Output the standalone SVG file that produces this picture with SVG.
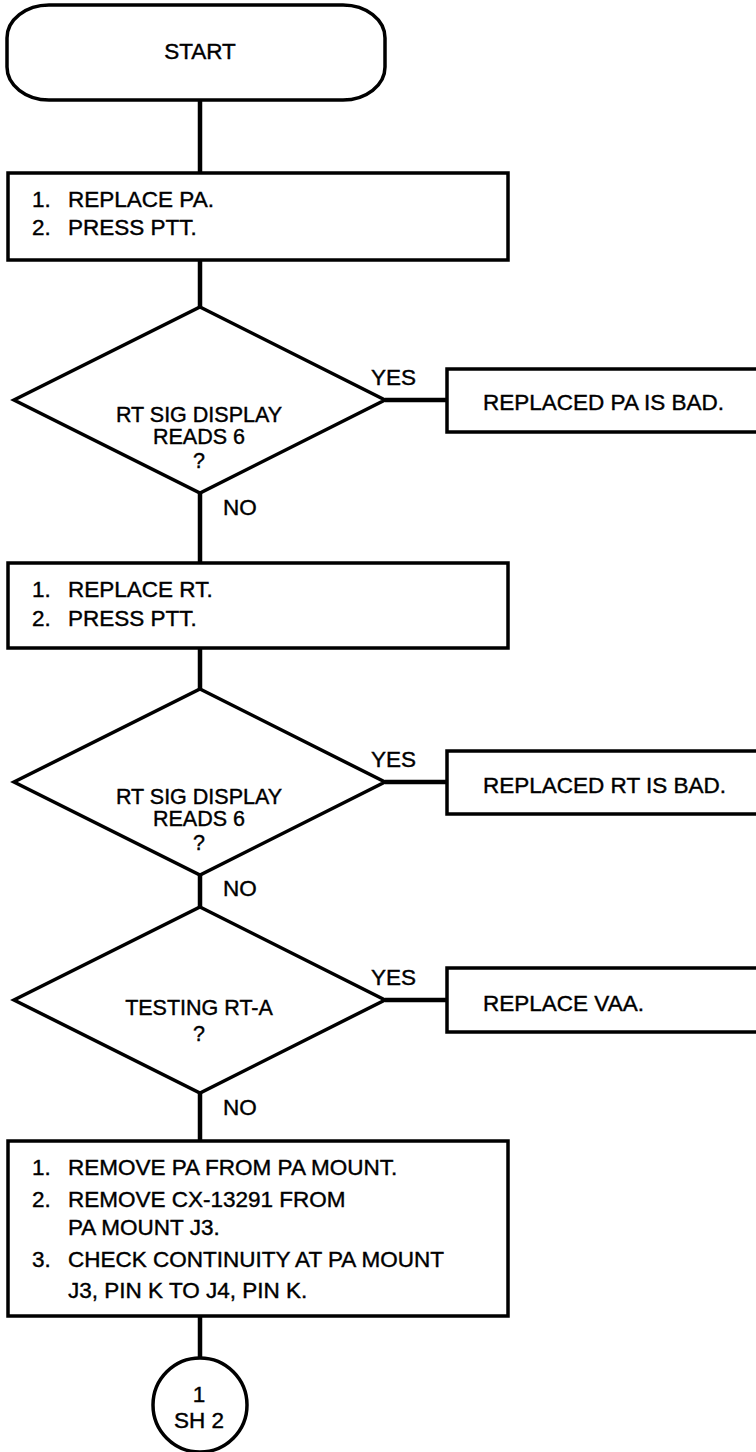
<svg xmlns="http://www.w3.org/2000/svg" width="756" height="1452" viewBox="0 0 756 1452">
<style>
text{font-family:"Liberation Sans",Arial,Helvetica,sans-serif;font-size:22.5px;fill:#000;stroke:#000;stroke-width:0.4}
.c{text-anchor:middle}
.d{font-size:21.5px}
.s{fill:#fff;stroke:#000;stroke-width:3.5;stroke-linejoin:miter}
.ln{fill:none;stroke:#000;stroke-width:4.5}
</style>
<rect width="756" height="1452" fill="#fff"/>
<g id="connectors">
<path class="ln" d="M200 100V173M200 260V307M200 493V563M200 648V689M200 875V907M200 1093V1141M200 1316V1358"/>
<path class="ln" d="M385 400H447M385 782H447M385 1000H447"/>
</g>
<g id="labels">
<text x="371" y="385">YES</text>
<text x="223" y="515">NO</text>
<text x="371" y="767">YES</text>
<text x="223" y="896">NO</text>
<text x="371" y="985">YES</text>
<text x="223" y="1115">NO</text>
</g>
<g id="start">
<rect class="s" x="7" y="5" width="378" height="95" rx="42" ry="33"/>
<text class="c" x="200" y="59">START</text>
</g>
<g id="step1">
<rect class="s" x="8" y="173" width="500" height="87"/>
<text x="32" y="207">1.</text><text x="68" y="207">REPLACE PA.</text>
<text x="32" y="235">2.</text><text x="68" y="235">PRESS PTT.</text>
</g>
<g id="decision1">
<polygon class="s" points="200,307 385,400 200,493 14,400"/>
<text class="c d" x="199" y="422">RT SIG DISPLAY</text>
<text class="c d" x="199" y="444">READS 6</text>
<text class="c d" x="199" y="468">?</text>
</g>
<g id="result1">
<rect class="s" x="447" y="369" width="330" height="63"/>
<text x="483" y="410">REPLACED PA IS BAD.</text>
</g>
<g id="step2">
<rect class="s" x="8" y="563" width="500" height="85"/>
<text x="32" y="597">1.</text><text x="68" y="597">REPLACE RT.</text>
<text x="32" y="626">2.</text><text x="68" y="626">PRESS PTT.</text>
</g>
<g id="decision2">
<polygon class="s" points="200,689 385,782 200,875 14,782"/>
<text class="c d" x="199" y="804">RT SIG DISPLAY</text>
<text class="c d" x="199" y="826">READS 6</text>
<text class="c d" x="199" y="850">?</text>
</g>
<g id="result2">
<rect class="s" x="447" y="751" width="330" height="63"/>
<text x="483" y="793">REPLACED RT IS BAD.</text>
</g>
<g id="decision3">
<polygon class="s" points="200,907 385,1000 200,1093 14,1000"/>
<text class="c d" x="199" y="1015">TESTING RT-A</text>
<text class="c d" x="199" y="1041">?</text>
</g>
<g id="result3">
<rect class="s" x="447" y="968" width="330" height="64"/>
<text x="483" y="1011">REPLACE VAA.</text>
</g>
<g id="step3">
<rect class="s" x="8" y="1141" width="500" height="175"/>
<text x="32" y="1175">1.</text><text x="68" y="1175">REMOVE PA FROM PA MOUNT.</text>
<text x="32" y="1207">2.</text><text x="68" y="1207">REMOVE CX-13291 FROM</text>
<text x="68" y="1235">PA MOUNT J3.</text>
<text x="32" y="1267">3.</text><text x="68" y="1267">CHECK CONTINUITY AT PA MOUNT</text>
<text x="68" y="1298">J3, PIN K TO J4, PIN K.</text>
</g>
<g id="connector-sh2">
<circle class="s" cx="200" cy="1405" r="47"/>
<text class="c" x="199" y="1402">1</text>
<text class="c" x="199" y="1428">SH 2</text>
</g>
</svg>
